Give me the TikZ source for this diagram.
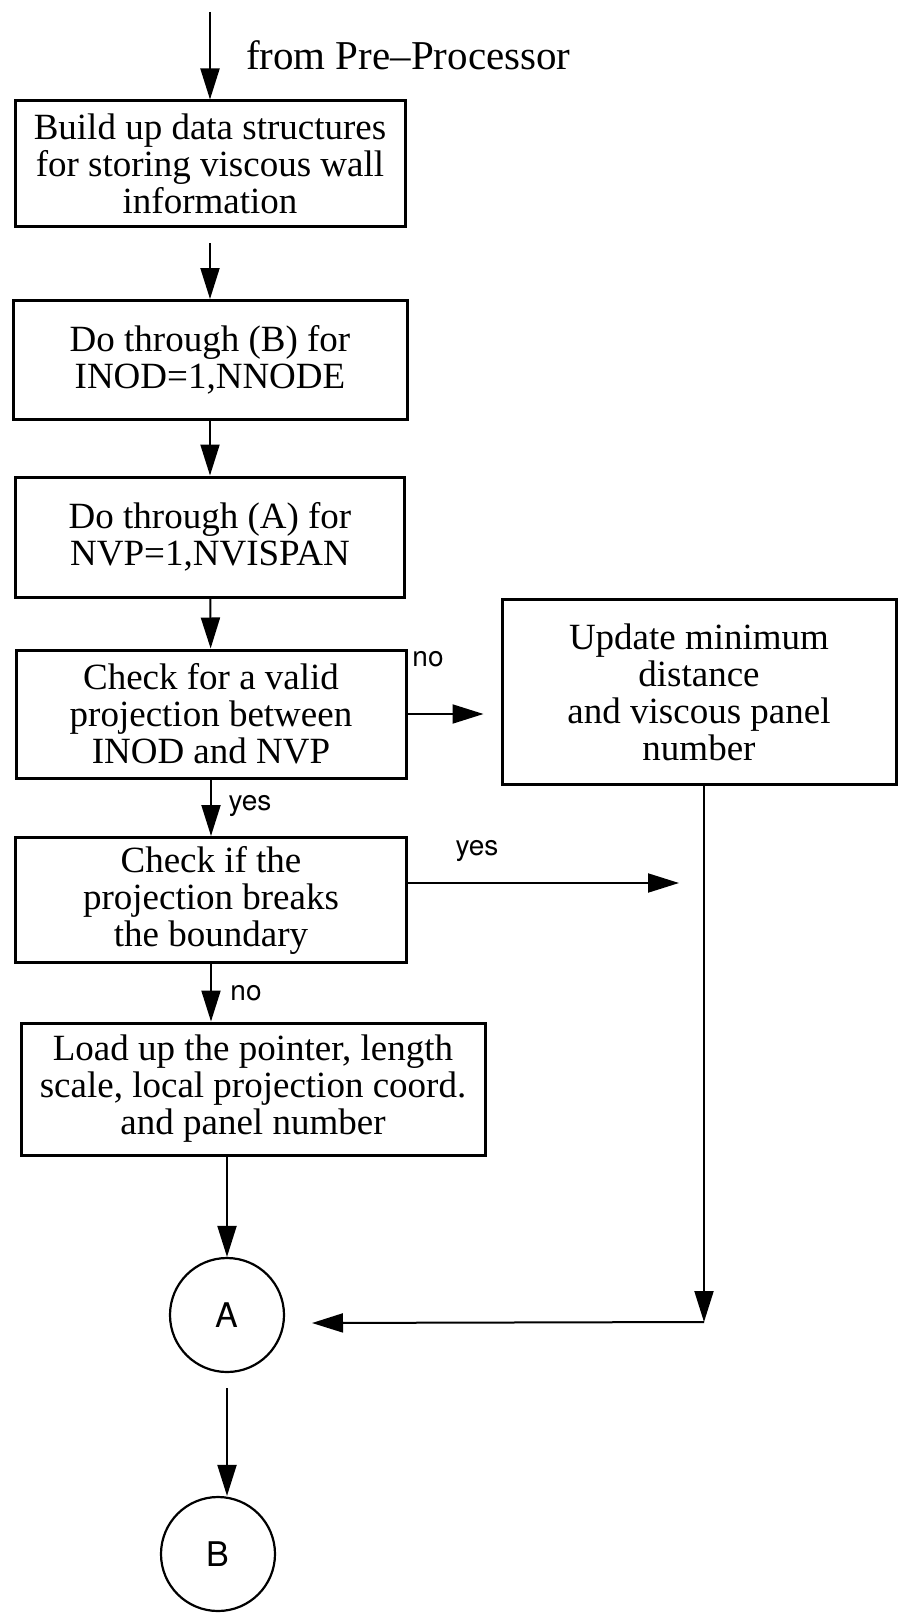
\documentclass[tikz,border=0pt]{standalone}
\usepackage{fontspec}
\setmainfont{Liberation Serif}
\setsansfont{TeX Gyre Heros}
\usetikzlibrary{arrows.meta}

\begin{document}
\begin{tikzpicture}[x=1pt, y=-1pt,
        box/.style={draw, line width=3pt, align=center, inner sep=0pt, font=\fontsize{37}{37}\selectfont},
        conn/.style={circle, draw, line width=2.2pt, minimum size=114pt, inner sep=0pt, font=\sffamily\fontsize{34}{34}\selectfont},
        lbl/.style={inner sep=0pt, font=\sffamily\fontsize{28}{28}\selectfont},
        ->, >={Triangle[length=31pt, width=19pt]}, line width=2pt]
        \useasboundingbox (0,0) rectangle (897,1613);

        \node[box, minimum width=390pt, minimum height=126pt] (build) at (210,164) {Build up data structures\\for storing viscous wall\\information};
        \node[anchor=base west, inner sep=0pt, font=\fontsize{41}{37}\selectfont] (from) at (245,70) {from Pre--Processor};
        \node[box, minimum width=394pt, minimum height=119pt] (donode) at (210,360) {Do through (B) for\\INOD=1,NNODE};
        \node[box, minimum width=389pt, minimum height=120pt] (dopan) at (210,537) {Do through (A) for\\NVP=1,NVISPAN};
        \node[box, minimum width=390pt, minimum height=128pt] (valid) at (211,714) {Check for a valid\\projection between\\INOD and NVP};
        \node[box, minimum width=394pt, minimum height=185pt] (update) at (699,692) {Update minimum\\distance\\and viscous panel\\number};
        \node[box, minimum width=391pt, minimum height=125pt] (breaks) at (211,900) {Check if the\\projection breaks\\the boundary};
        \node[box, minimum width=464pt, minimum height=132pt] (load) at (253,1089) {Load up the pointer, length\\scale, local projection coord.\\and panel number};
        \node[conn] (ca) at (227,1315) {A};
        \node[conn] (cb) at (218,1554) {B};

        \node[lbl] (no1) at (428,659) {no};
        \node[lbl] (yes1) at (250,806) {yes};
        \node[lbl] (yes2) at (477,851) {yes};
        \node[lbl] (no2) at (246,993) {no};

        \coordinate (in) at (210,12);
        \coordinate (tipyes) at (679,883);
        \coordinate (corner) at (704,1322);
        \coordinate (tipa) at (312,1323);

        \draw (in) -- (build);
        \draw[shorten <=15pt] (build) -- (donode);
        \draw (donode) -- (dopan);
        \draw (dopan) -- (valid);
        \draw[shorten >=17pt] (valid.east) -- (valid.east -| update.west);
        \draw (valid) -- (breaks);
        \draw (breaks.east |- tipyes) -- (tipyes);
        \draw (breaks.south) -- (breaks.south |- load.north);
        \draw (update.south -| corner) -- (corner);
        \draw (corner) -- (tipa);
        \draw (ca.north |- load.south) -- (ca);
        \draw[shorten <=15pt] (ca.south) -- (ca.south |- cb.north);
    \end{tikzpicture}
\end{document}
